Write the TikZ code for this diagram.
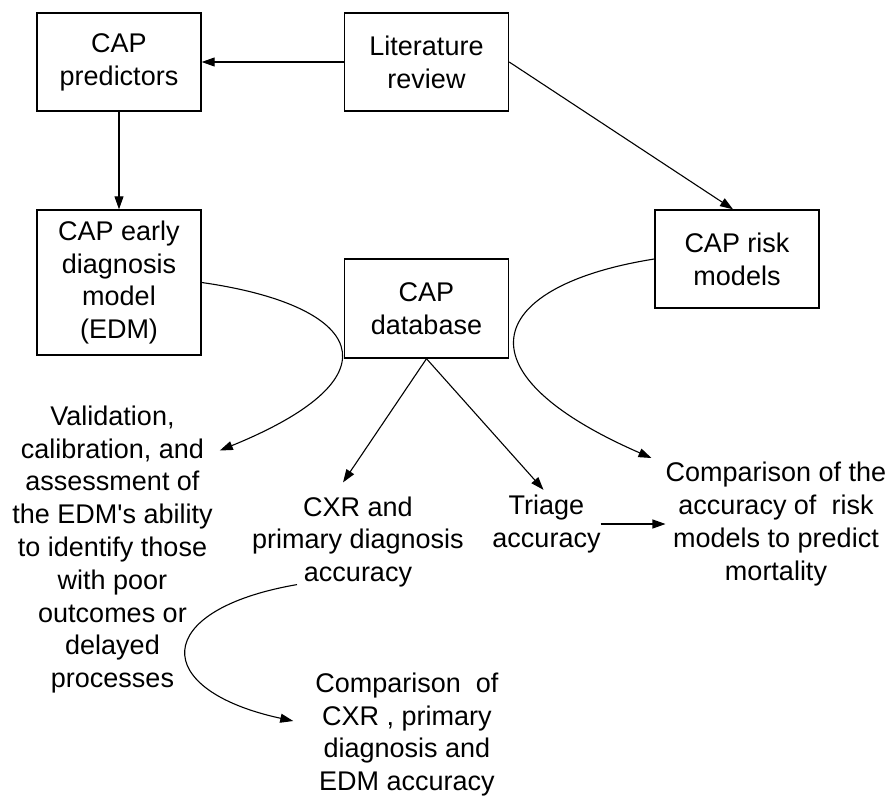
\documentclass[tikz,border=0pt]{standalone}
\usepackage{fontspec}
\setmainfont{Liberation Sans}
\usetikzlibrary{arrows.meta}
\begin{document}
\begin{tikzpicture}[x=1pt,y=-1pt,
  every node/.style={font=\fontsize{27}{32.8}\selectfont, align=center, inner sep=0pt},
  box/.style={draw, line width=1.4pt, minimum width=164pt, minimum height=98pt},
  arr/.style={-{Triangle[length=13pt,width=9pt]}, line width=1.1pt}]
\useasboundingbox (0,0) rectangle (892,798);
% boxes
\node[box] (pred) at (119,62) {CAP\\predictors};
\node[box] (lit) at (426.5,62) {Literature\\review};
\node[box, minimum height=145pt] (edm) at (119,282.5) {CAP early\\diagnosis\\model\\(EDM)};
\node[box, minimum height=99pt] (db) at (426.5,308.5) {CAP\\database};
\node[box] (risk) at (737,259) {CAP risk\\models};
% text nodes
\node (val) at (112.5,549.5) {Validation,\\calibration, and\\assessment of\\the EDM\textquotesingle s ability\\to identify those\\with poor\\outcomes or\\delayed\\processes};
\node (cxr) at (358,542) {CXR and\\primary diagnosis\\accuracy};
\node (tr) at (546.5,524) {Triage\\accuracy};
\node (cr) at (776,524) {Comparison of the\\accuracy of~ risk\\models to predict\\mortality};
\node (cc) at (407,734.5) {Comparison~ of\\CXR , primary\\diagnosis and\\EDM accuracy};
% connectors
\draw[arr] (lit.west) -- (pred.east);
\draw[arr] (pred.south) -- (edm.north);
\draw[arr] (lit.east) -- ([shift={(-4,0)}]risk.north);
\draw[arr] (db.south) -- ([shift={(-15,-14)}]cxr.north);
\draw[arr] (db.south) -- ([shift={(-3,-5)}]tr.north);
\draw[arr] (tr.east) -- (cr.west);
\draw[arr] (edm.east) .. controls (360,305) and (405,375) .. ([shift={(7,45)}]val.north east);
\draw[arr] (risk.west) .. controls (490,285) and (450,370) .. ([shift={(-14,-4)}]cr.north west);
\draw[arr] ([shift={(-61,-3)}]cxr.south) .. controls (150,610) and (150,690) .. ([shift={(-22,-13.5)}]cc.west);
\end{tikzpicture}
\end{document}
